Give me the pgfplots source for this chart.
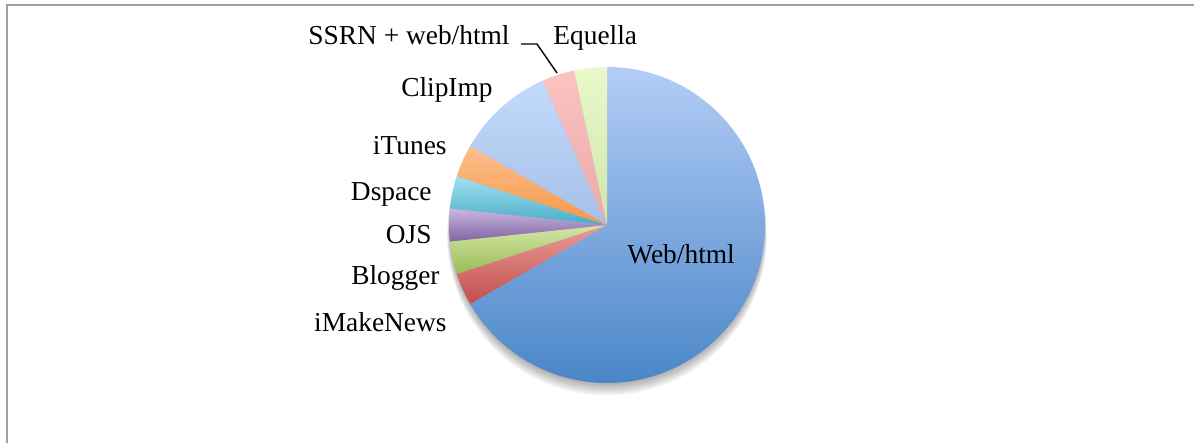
\documentclass[border=0pt]{standalone}
\usepackage{pgfplots}
\pgfplotsset{compat=1.18}
\usepackage{pgfplotstable}
\usepackage{fontspec}
\setmainfont{Liberation Serif}

% slice colours, light at the top of each slice, darker at the bottom
\definecolor{top0}{HTML}{B3CDF6}\definecolor{bot0}{HTML}{4A86C8}
\definecolor{top1}{HTML}{EC9A97}\definecolor{bot1}{HTML}{C0504D}
\definecolor{top2}{HTML}{D3E7A6}\definecolor{bot2}{HTML}{9BBB59}
\definecolor{top3}{HTML}{C8B8E2}\definecolor{bot3}{HTML}{8064A2}
\definecolor{top4}{HTML}{A2E0F2}\definecolor{bot4}{HTML}{4BACC6}
\definecolor{top5}{HTML}{FCC08E}\definecolor{bot5}{HTML}{F79646}
\definecolor{top6}{HTML}{C2DAFB}\definecolor{bot6}{HTML}{A7BFE6}
\definecolor{top7}{HTML}{FBC3C1}\definecolor{bot7}{HTML}{EBA9A8}
\definecolor{top8}{HTML}{E9F9CB}\definecolor{bot8}{HTML}{D1E4A9}
\definecolor{framegray}{HTML}{A0A0A0}

% platforms, clockwise from 12 o'clock; anc: 1 = text ends at (lx,ly), 0 = starts there
\pgfplotstableread{
idx label value lx ly anc
0 Web/html 20 627 179 0
1 iMakeNews 1 447 111 1
2 Blogger 1 440 158 1
3 OJS 1 432 199 1
4 Dspace 1 432 242 1
5 iTunes 1 447 288 1
6 ClipImp 3 493 346 1
7 {SSRN + web/html} 1 510 398 1
8 Equella 1 553 398 0
}\piedata
% running total in degrees (total of 30 -> 12 degrees per unit)
\pgfplotstablecreatecol[expr accum={\pgfmathaccuma + 12*\thisrow{value}}{0}]{cum}\piedata

\begin{document}
\begin{tikzpicture}
\begin{axis}[
  scale only axis, width=597pt, height=221.5pt,
  xmin=0, xmax=1194, ymin=0, ymax=443,
  hide axis, clip=false,
]
% frame of the chart area (cut by the page)
\draw[framegray, line width=0.75pt] (axis cs:7,0) -- (axis cs:7,438) -- (axis cs:1194,438);
\coordinate (sw) at (axis cs:0,0);
\coordinate (ne) at (axis cs:1194,443);

% soft shadow under the pie
\pgfplotsinvokeforeach{1,...,7}{
  \fill[black, opacity=0.05] (axis cs:607,{218-1.5*#1}) circle[radius={78.5pt+0.2pt*#1}];
}

% wedges
\addplot[
  scatter, only marks, mark=*, mark size=0pt,
  mark options={draw=none, fill=none},
  visualization depends on={\thisrow{idx}\as\idx},
  visualization depends on={\thisrow{cum}\as\cum},
  visualization depends on={\thisrow{value}\as\val},
  scatter/@pre marker code/.code={%
    \pgfmathtruncatemacro\i{\idx}%
    \pgfmathsetmacro\ea{90-\cum}%
    \pgfmathsetmacro\sa{\ea+12*\val}%
    \shade[draw=none, top color=top\i, bottom color=bot\i]
      (0,0) -- (\sa:79pt) arc[start angle=\sa, end angle=\ea, radius=79pt] -- cycle;
  },
  scatter/@post marker code/.code={},
] table[x expr=607, y expr=218] {\piedata};

% labels
\addplot[
  scatter, only marks, mark=*, mark size=0pt,
  mark options={draw=none, fill=none},
  visualization depends on={\thisrow{idx}\as\idx},
  visualization depends on={\thisrow{anc}\as\anc},
  scatter/@pre marker code/.code={%
    \pgfmathtruncatemacro\i{\idx}%
    \pgfmathtruncatemacro\a{\anc}%
    \pgfplotstablegetelem{\i}{label}\of\piedata
    \let\lab\pgfplotsretval
    \ifnum\a=1 \def\side{east}\else\def\side{west}\fi
    \node[anchor=base \side, inner sep=0pt, text=black, font=\fontsize{13.7}{16}\selectfont] at (0,0) {\lab};
  },
  scatter/@post marker code/.code={},
] table[x=lx, y=ly] {\piedata};

% leader line for SSRN + web/html
\draw[black, line width=0.7pt] (axis cs:521,399) -- (axis cs:537,399) -- (axis cs:557,370);
\end{axis}
\pgfresetboundingbox
\path (sw) rectangle (ne);
\end{tikzpicture}
\end{document}
